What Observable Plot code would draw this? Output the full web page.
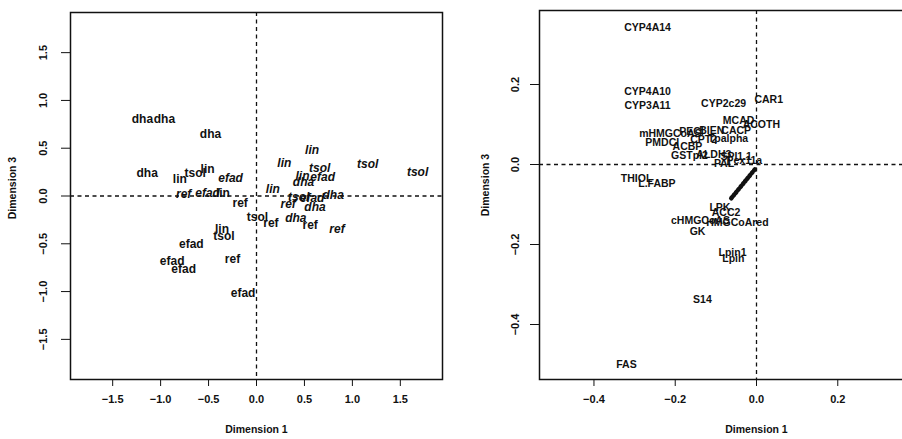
<!DOCTYPE html>
<html><head><meta charset="utf-8">
<script src="https://cdn.jsdelivr.net/npm/d3@7"></script>
<script src="https://cdn.jsdelivr.net/npm/@observablehq/plot@0.6"></script>
<style>
body{margin:0;background:#fff;}
#wrap{position:relative;width:902px;height:439px;overflow:hidden;background:#fff;}
#left{position:absolute;left:0;top:0;width:460px;}
#right{position:absolute;left:460px;top:0;width:540px;}
#wrap svg{max-width:none !important;}
</style></head><body>
<div id="wrap"><div id="left"></div><div id="right"></div></div>
<script>
// ---- Left panel: samples (diet labels), bold = one genotype, italic = other
const leftLabels = ["dha","dha","dha","dha","lin","lin","lin","lin","tsol","tsol","tsol","ref","ref","ref","ref","efad","efad","efad","efad",
                    "lin","lin","lin","lin","tsol","tsol","tsol","tsol","dha","dha","dha","dha","efad","efad","efad","efad","ref","ref","ref"];
const leftX = [-1.19,-0.96,-0.48,-1.14,-0.51,-0.80,-0.36,-0.35,-0.64,0.01,-0.34,-0.17,0.15,-0.25,0.56,-0.68,-0.88,-0.76,-0.14,
               0.58,0.29,0.48,0.17,0.66,1.16,1.68,0.44,0.49,0.80,0.61,0.41,0.69,0.58,-0.27,-0.51,-0.76,0.33,0.84];
const leftY = [0.80,0.80,0.65,0.24,0.28,0.18,-0.35,0.03,0.24,-0.22,-0.42,-0.08,-0.28,-0.66,-0.30,-0.50,-0.68,-0.77,-1.02,
               0.48,0.34,0.21,0.07,0.29,0.33,0.25,-0.01,0.14,0.01,-0.12,-0.23,0.20,-0.02,0.19,0.03,0.02,-0.09,-0.35];
const leftStyle = ["b","b","b","b","b","b","b","b","b","b","b","b","b","b","b","b","b","b","b",
                   "i","i","i","i","i","i","i","i","i","i","i","i","i","i","i","i","i","i","i"];
const leftXTicks = [-1.5,-1.0,-0.5,0,0.5,1.0,1.5];
const leftYTicks = [-1.5,-1.0,-0.5,0,0.5,1.0,1.5];

// ---- Right panel: genes
const geneLabels = ["CYP4A14","CYP4A10","CYP3A11","CYP2c29","CAR1","MCAD","ACOTH","mHMGCoAS","PECI","BIEN","CACP","PMDCI","CPT2","Tpalpha","ACBP","GSTpi2","ALDH3","SPI1.1","PAL","Pex11a","THIOL","L.FABP","LPK","ACC2","cHMGCoAS","HMGCoAred","GK","Lpin1","Lpin","S14","FAS"];
const geneX = [-0.268,-0.268,-0.268,-0.081,0.03,-0.044,0.012,-0.212,-0.16,-0.11,-0.05,-0.232,-0.13,-0.07,-0.17,-0.165,-0.105,-0.05,-0.08,-0.03,-0.295,-0.245,-0.09,-0.075,-0.138,-0.047,-0.145,-0.059,-0.057,-0.133,-0.32];
const geneY = [0.343,0.183,0.148,0.153,0.163,0.11,0.10,0.078,0.082,0.085,0.085,0.055,0.063,0.065,0.045,0.022,0.024,0.02,0.003,0.01,-0.035,-0.048,-0.107,-0.12,-0.14,-0.145,-0.168,-0.22,-0.236,-0.338,-0.50];
const streakX = [-0.004,-0.065];
const streakY = [-0.012,-0.088];
const rightXTicks = [-0.4,-0.2,0,0.2];
const rightYTicks = [-0.4,-0.2,0,0.2];

const font = "'Liberation Sans', Arial, Helvetica, sans-serif";
const fmt = d3.format(".1f");
const ink = "#111";

const leftData = leftLabels.map((t,i)=>({t, x:leftX[i], y:leftY[i], s:leftStyle[i]}));
const geneData = geneLabels.map((t,i)=>({t, x:geneX[i], y:geneY[i]}));
const streak = streakX.map((x,i)=>({x, y:streakY[i]}));

const dash = {strokeDasharray:"4,3.5", strokeWidth:1.3, stroke:ink};

const leftPlot = Plot.plot({
  width:460, height:439,
  marginLeft:70, marginRight:18, marginTop:12, marginBottom:60,
  x:{domain:[-1.94,1.94]},
  y:{domain:[-1.92,1.92]},
  style:{fontFamily:font, background:"white", overflow:"visible", color:ink, maxWidth:"none"},
  marks:[
    Plot.ruleX([0], dash),
    Plot.ruleY([0], dash),
    Plot.frame({strokeWidth:1.5, stroke:ink}),
    Plot.axisX(leftXTicks, {tickSize:7, tickPadding:9, fontSize:11, fontWeight:"bold", tickFormat:fmt, label:null}),
    Plot.axisY(leftYTicks, {tickSize:9, tickRotate:-90, tickPadding:15, fontSize:11, fontWeight:"bold", tickFormat:fmt, label:null}),
    Plot.text(leftData.filter(d=>d.s==="b"), {x:"x", y:"y", text:"t", fontSize:12, fontWeight:"bold", fill:ink}),
    Plot.text(leftData.filter(d=>d.s==="i"), {x:"x", y:"y", text:"t", fontSize:12, fontWeight:"bold", fontStyle:"italic", fill:ink}),
    Plot.text(["Dimension 1"], {frameAnchor:"bottom", dy:53, fontSize:10.5, fontWeight:"bold", fill:ink}),
    Plot.text(["Dimension 3"], {frameAnchor:"left", dx:-58, dy:-8, rotate:-90, textAnchor:"middle", fontSize:10.5, fontWeight:"bold", fill:ink})
  ]
});
document.getElementById("left").appendChild(leftPlot);

const rightPlot = Plot.plot({
  width:540, height:439,
  marginLeft:79, marginRight:27, marginTop:10, marginBottom:60,
  x:{domain:[-0.534,0.534]},
  y:{domain:[-0.5375,0.385]},
  style:{fontFamily:font, background:"white", overflow:"visible", color:ink, maxWidth:"none"},
  marks:[
    Plot.ruleX([0], dash),
    Plot.ruleY([0], dash),
    Plot.frame({strokeWidth:1.5, stroke:ink}),
    Plot.line(streak, {x:"x", y:"y", stroke:ink, strokeWidth:4.5, strokeDasharray:"1.4,2.2"}),
    Plot.axisX(rightXTicks, {tickSize:7, tickPadding:9, fontSize:11, fontWeight:"bold", tickFormat:fmt, label:null}),
    Plot.axisY(rightYTicks, {tickSize:9, tickRotate:-90, tickPadding:12, fontSize:11, fontWeight:"bold", tickFormat:fmt, label:null}),
    Plot.text(geneData, {x:"x", y:"y", text:"t", fontSize:10.5, fontWeight:"bold", fill:ink}),
    Plot.text(["Dimension 1"], {frameAnchor:"bottom", dy:53, fontSize:10.5, fontWeight:"bold", fill:ink}),
    Plot.text(["Dimension 3"], {frameAnchor:"left", dx:-54, dy:-10, rotate:-90, textAnchor:"middle", fontSize:10.5, fontWeight:"bold", fill:ink})
  ]
});
document.getElementById("right").appendChild(rightPlot);
</script>
</body></html>
